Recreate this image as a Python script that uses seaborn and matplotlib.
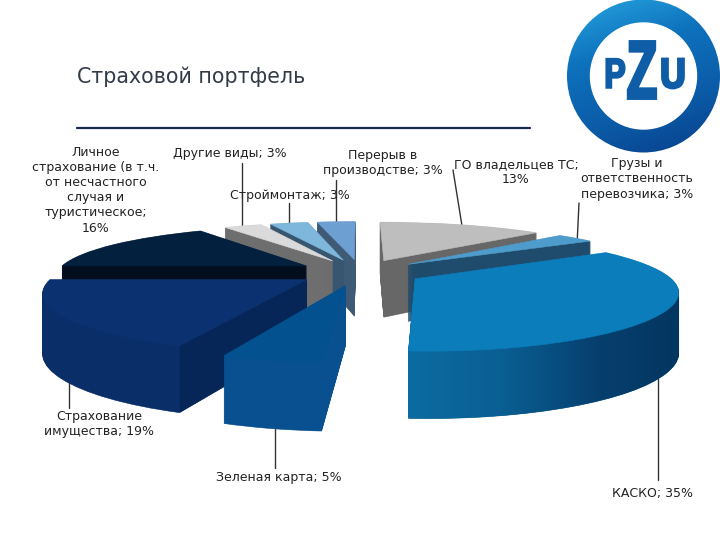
import numpy as np
import matplotlib
matplotlib.use("Agg")
import matplotlib.pyplot as plt
import seaborn as sns
from matplotlib.transforms import Transform, Affine2D
from matplotlib.patches import Circle
from matplotlib.path import Path
from matplotlib.patheffects import AbstractPathEffect

categories = ["ГО владельцев ТС", "Грузы и ответственность перевозчика", "КАСКО",
              "Зеленая карта", "Страхование имущества",
              "Личное страхование", "Другие виды", "Строймонтаж", "Перерыв в производстве"]
shares = [13, 3, 35, 5, 19, 16, 3, 3, 3]
top_colors = ["#BEBEBE", "#4E9CCB", "#0B7DBB", "#04518F", "#0B3170",
              "#03203F", "#DADADA", "#7FB6DC", "#6E9FD2"]
side_colors = ["#676767", "#1F4B6C", "#0A5B8C", "#08508F", "#0A2F68",
               "#020E1E", "#6E6E6E", "#38566F", "#3F5A75"]
paint_rank = [0, 1, 2, 8, 7, 6, 5, 4, 3]
title_text = "Страховой портфель"
labels = [
    ("Личное\nстрахование (в т.ч.\nот несчастного\nслучая и\nтуристическое;\n16%", 96, 190),
    ("Другие виды; 3%", 230, 154),
    ("Строймонтаж; 3%", 290, 196),
    ("Перерыв в\nпроизводстве; 3%", 383, 163),
    ("ГО владельцев ТС;\n13%", 516, 172),
    ("Грузы и\nответственность\nперевозчика; 3%", 637, 179),
    ("КАСКО; 35%", 652, 493),
    ("Страхование\nимущества; 19%", 99, 424),
    ("Зеленая карта; 5%", 279, 477),
]
leaders = [
    ((242, 242), (163, 232)), ((289, 289), (203, 232)), ((336, 336), (180, 232)),
    ((453, 463), (170, 232)), ((579, 577), (203, 245)), ((658, 658), (375, 480)),
    ((69, 69), (360, 408)), ((275, 275), (410, 468)),
]

sns.set_theme(style="white")
plt.rcParams["font.family"] = ["DejaVu Sans"]

fig = plt.figure(figsize=(7.2, 5.4), dpi=100)
ax = fig.add_axes([0, 0, 1, 1])


class Persp(Transform):
    input_dims = output_dims = 2
    is_affine = False
    has_inverse = False

    def __init__(self, z):
        super().__init__()
        self.z = z

    def transform_non_affine(self, v):
        v = np.asarray(v, float)
        sy = 1 / (1 + 0.23 * v[:, 1])
        sx = 1 / (1 + 0.19 * v[:, 1])
        return np.column_stack((360 + 250 * v[:, 0] * sx,
                                272 - 52 * v[:, 1] * sy + self.z * 58 * np.sqrt(sy)))


n_layers = 90
kasko_paths = []
for i in range(n_layers, -1, -1):
    z = i / n_layers
    cols = top_colors if i == 0 else side_colors
    wedges, _ = ax.pie(shares, colors=cols, startangle=90, counterclock=False,
                       explode=[0.25] * len(shares), radius=1, normalize=True)
    for k, w in enumerate(wedges):
        tr = Persp(z)
        w.set_transform(tr + ax.transData)
        w.set_edgecolor(cols[k])
        w.set_linewidth(0.4)
        w.set_zorder(10 * paint_rank[k] + 10 + (2 if i == 0 else 0))
        if k == 2 and i > 0:
            kasko_paths.append(tr.transform_path(w.get_path()))
        if k == 4 and i in (0, n_layers):
            # cut face of the property slice, along its leading edge
            ang = np.deg2rad(90 - 3.6 * sum(shares[:4]))
            mid = np.deg2rad(90 - 3.6 * (sum(shares[:4]) + shares[4] / 2))
            apex = 0.25 * np.array([np.cos(mid), np.sin(mid)])
            rim = apex + np.array([np.cos(ang), np.sin(ang)])
            pts = np.array([apex, rim])
            if i == n_layers:
                low = tr.transform(pts)
            else:
                high = tr.transform(pts)

ax.fill(*np.vstack((high, low[::-1])).T, color="#052656", lw=0,
        zorder=10 * paint_rank[4] + 11)

# shaded rim of the largest slice
rim_cmap = sns.blend_palette(["#0C6DA3", "#0A5F94", "#063F6E", "#03345C"], as_cmap=True)
rim = ax.imshow(np.linspace(0, 1, 256)[None, :], cmap=rim_cmap,
                extent=(400, 700, 440, 240), aspect="auto",
                zorder=10 * paint_rank[2] + 11)
rim.set_clip_path(Path.make_compound_path(*kasko_paths), transform=ax.transData)

ax.set_aspect("auto")
ax.set_xlim(0, 720)
ax.set_ylim(540, 0)
ax.axis("off")

# Title and rule
ax.text(77, 77, title_text, fontsize=14.8, color="#333a48", va="center", ha="left")
ax.plot([77, 530], [128, 128], color="#14284f", lw=1.6, zorder=4)

# Callouts
for xs, ys in leaders:
    ax.plot(xs, ys, color="#333333", lw=1, zorder=4)
for txt, x, y in labels:
    ax.text(x, y, txt, ha="center", va="center", fontsize=9, color="#222222",
            linespacing=1.22, zorder=205)

# Logo
grad = np.linspace(0, 1, 160)[:, None] * 0.75 + np.linspace(0, 1, 160)[None, :] * 0.25
ring = sns.blend_palette(["#27A6E0", "#0E72BD", "#0B5CA8", "#083E8A"], as_cmap=True)
img = ax.imshow(grad, cmap=ring, extent=(566, 721, 153, -1), aspect="auto", zorder=206)
img.set_clip_path(Circle((643.5, 76), 76.5, transform=ax.transData))
ax.add_patch(Circle((643.5, 76), 53, color="white", zorder=207))
ax.set_xlim(0, 720)
ax.set_ylim(540, 0)


class Stretch(AbstractPathEffect):
    def __init__(self, cx, cy, sx, sy, stroke):
        super().__init__()
        self.m = Affine2D().translate(-cx, -cy).scale(sx, sy).translate(cx, cy)
        self.stroke = stroke

    def draw_path(self, renderer, gc, tpath, affine, rgbFace=None):
        gc2 = renderer.new_gc()
        gc2.copy_properties(gc)
        gc2.set_foreground(rgbFace)
        gc2.set_linewidth(self.stroke)
        gc2.set_joinstyle("miter")
        renderer.draw_path(gc2, tpath, affine + self.m, rgbFace)
        gc2.restore()


logo = dict(color="#0F5DA6", fontweight="bold", ha="center", va="center", zorder=208,
            family="Liberation Sans")
for ch, x, fs, sx, sy, st in [("P", 615, 24, 0.95, 1.25, 1.6), ("Z", 642, 32, 1.1, 1.85, 2.4),
                              ("U", 673, 24, 1.05, 1.25, 2)]:
    ax.text(x, 77, ch, fontsize=fs,
            path_effects=[Stretch(x, 540 - 77, sx, sy, st)], **logo)

fig.savefig("out.png", dpi=100)
